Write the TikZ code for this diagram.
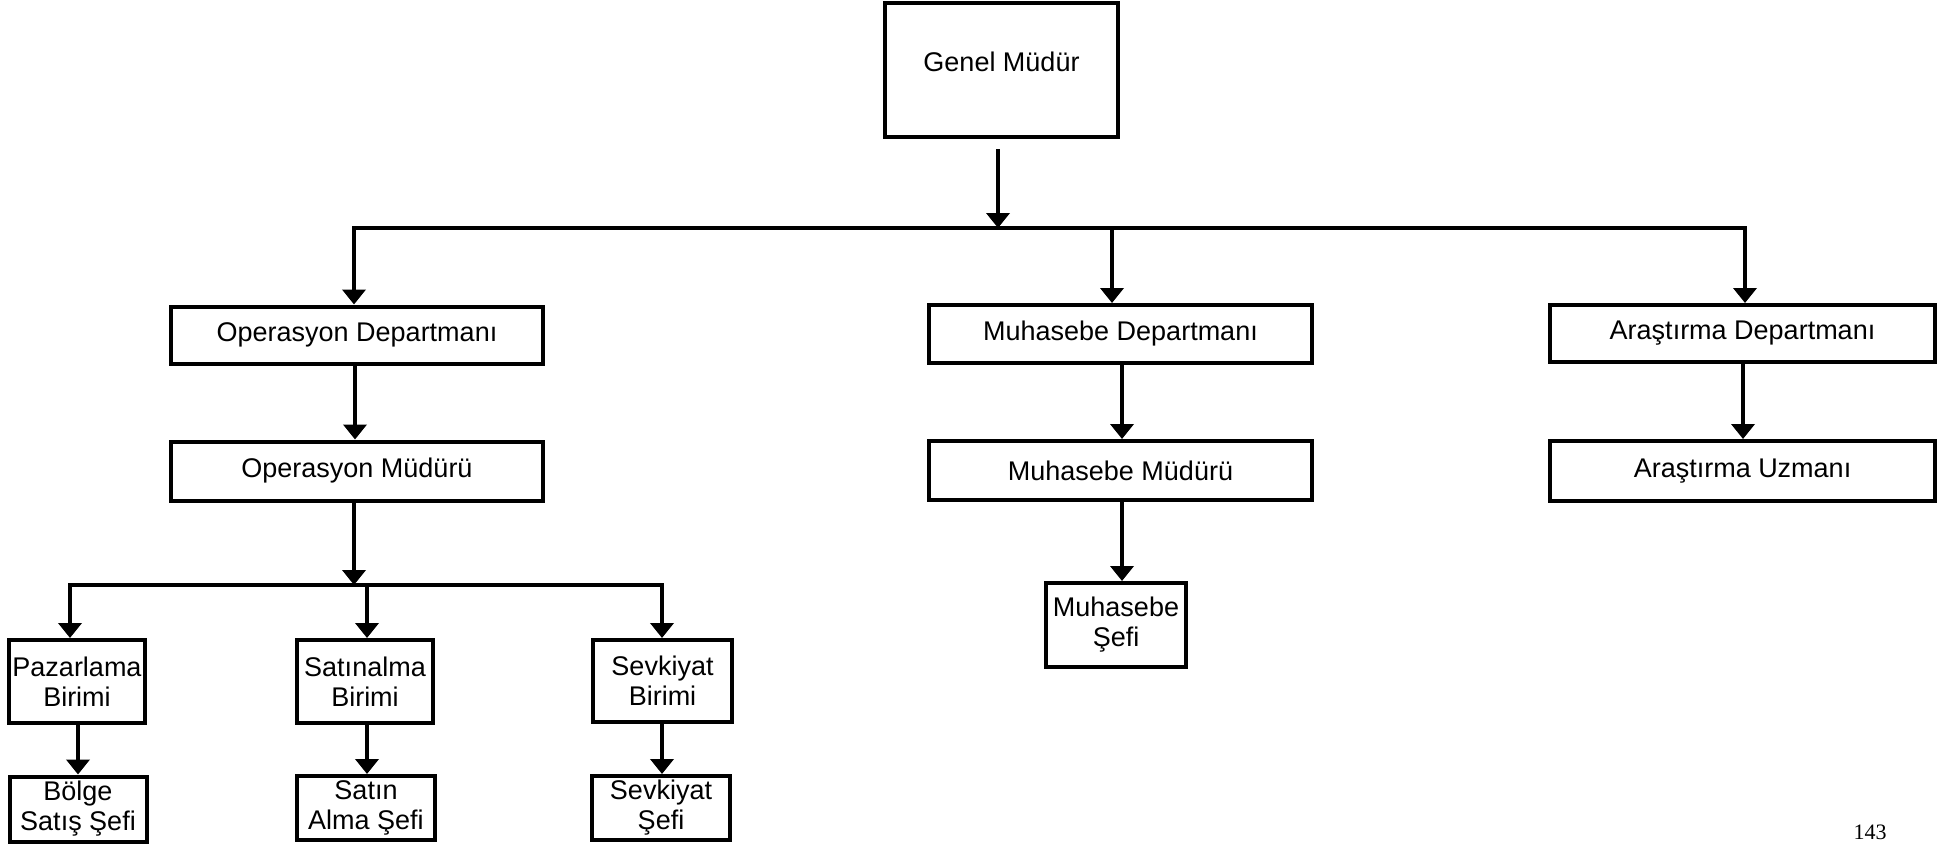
\documentclass[tikz,border=0pt]{standalone}
\usepackage{fontspec}
\setmainfont{Liberation Sans}
\newfontfamily\pagefont{Liberation Serif}
\usetikzlibrary{arrows.meta,calc}
\tikzset{
  x=0.5pt,y=-0.5pt,
  box/.style={draw=black,line width=2pt,fill=white,inner sep=0pt,align=center,
    font=\fontsize{13.5}{15}\selectfont},
  arr/.style={draw=black,line width=2pt,-{Triangle[width=11.5pt,length=7.5pt]}},
  busline/.style={draw=black,line width=2pt,line cap=rect},
}
\begin{document}
\begin{tikzpicture}
\useasboundingbox (0,0) rectangle (1953,846);
% nodes
\node[box,minimum width=116.5pt,minimum height=67pt,text depth=8pt] (gm) at (1001.5,70) {Genel Müdür};
\node[box,minimum width=186pt,minimum height=28.5pt] (opd) at (357,335) {Operasyon Departmanı};
\node[box,minimum width=186pt,minimum height=29.5pt] (opm) at (357,471) {Operasyon Müdürü};
\node[box,minimum width=191.5pt,minimum height=29pt] (mud) at (1120.5,334) {Muhasebe Departmanı};
\node[box,minimum width=191.5pt,minimum height=29.5pt] (mum) at (1120.5,470.5) {Muhasebe Müdürü};
\node[box,minimum width=70pt,minimum height=42pt] (mus) at (1116,625) {Muhasebe\\Şefi};
\node[box,minimum width=192.5pt,minimum height=28.5pt] (ard) at (1742.5,333.5) {Araştırma Departmanı};
\node[box,minimum width=192.5pt,minimum height=30pt] (aru) at (1742.5,471) {Araştırma Uzmanı};
\node[box,minimum width=68pt,minimum height=41.5pt] (pb) at (77,681.5) {Pazarlama\\Birimi};
\node[box,minimum width=68pt,minimum height=41.5pt] (sb) at (365,681.5) {Satınalma\\Birimi};
\node[box,minimum width=69.5pt,minimum height=41pt] (svb) at (662.5,681) {Sevkiyat\\Birimi};
\node[box,minimum width=68.5pt,minimum height=32.5pt] (bss) at (78,809) {Bölge\\Satış Şefi};
\node[box,minimum width=69pt,minimum height=32pt] (sas) at (366,808) {Satın\\Alma Şefi};
\node[box,minimum width=69pt,minimum height=32pt] (svs) at (661,808) {Sevkiyat\\Şefi};
\node[font=\pagefont\fontsize{11}{13}\selectfont] (pg) at (1870,832) {143};
% top bus
\coordinate (busL) at (354,228);
\coordinate (busR) at (1745,228);
\coordinate (jm) at (1112,228);
\coordinate (gmj) at (998,228);
\draw[busline] (busL) -- (busR);
\draw[arr,shorten <=5pt] (gm.south -| gmj) -- (gmj);
\draw[arr] (busL) -- (busL |- opd.north);
\draw[arr] (jm) -- (jm |- mud.north);
\draw[arr] (busR) -- (busR |- ard.north);
% column links
\coordinate (c1) at (355,0);
\coordinate (c2) at (1122,0);
\coordinate (c3) at (1743,0);
\draw[arr] (c1 |- opd.south) -- (c1 |- opm.north);
\draw[arr] (c2 |- mud.south) -- (c2 |- mum.north);
\draw[arr] (c2 |- mum.south) -- (c2 |- mus.north);
\draw[arr] (c3 |- ard.south) -- (c3 |- aru.north);
% lower bus
\coordinate (lbL) at (70,585);
\coordinate (lbR) at (662,585);
\coordinate (lbM) at (367,585);
\coordinate (lbO) at (354,585);
\draw[busline] (lbL) -- (lbR);
\draw[arr] (lbO |- opm.south) -- (lbO);
\draw[arr] (lbL) -- (lbL |- pb.north);
\draw[arr] (lbM) -- (lbM |- sb.north);
\draw[arr] (lbR) -- (lbR |- svb.north);
\coordinate (d1) at (78,0);
\draw[arr] (d1 |- pb.south) -- (d1 |- bss.north);
\draw[arr] (lbM |- sb.south) -- (lbM |- sas.north);
\draw[arr] (lbR |- svb.south) -- (lbR |- svs.north);
\end{tikzpicture}
\end{document}
